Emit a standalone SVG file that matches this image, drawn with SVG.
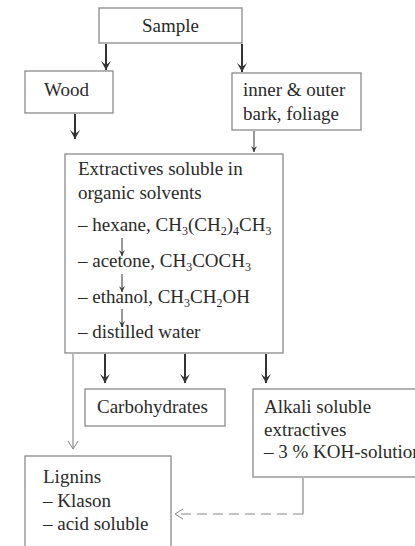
<svg xmlns="http://www.w3.org/2000/svg" width="415" height="546" viewBox="0 0 415 546">
<style>
text{font-family:"Liberation Serif","Times New Roman",serif;font-size:19px;fill:#2a2a2a}
.sub{font-size:12px}
.box{fill:#fff;stroke:#8a8a8a;stroke-width:1.3}
.thick{stroke:#333;stroke-width:2;fill:none}
.thin{stroke:#777;stroke-width:1;fill:none}
.tiny{stroke:#333;stroke-width:1;fill:none}
.dash{stroke:#888;stroke-width:1.2;fill:none;stroke-dasharray:10 6}
</style>
<defs>
<marker id="ah" markerWidth="12" markerHeight="12" refX="10" refY="6" orient="auto" markerUnits="userSpaceOnUse" viewBox="0 0 12 12">
<path d="M1,1 L10,6 L1,11 L5,6 Z" fill="#333"/>
</marker>
<marker id="sh" markerWidth="8" markerHeight="8" refX="7" refY="4" orient="auto" markerUnits="userSpaceOnUse" viewBox="0 0 8 8">
<path d="M1,1 L7,4 L1,7 L3.5,4 Z" fill="#333"/>
</marker>
<marker id="open" markerWidth="16" markerHeight="16" refX="14" refY="8" orient="auto" markerUnits="userSpaceOnUse" viewBox="0 0 16 16">
<path d="M6,3 L14,8 L6,13" fill="none" stroke="#888" stroke-width="1"/>
</marker>
</defs>
<rect width="415" height="546" fill="#fff"/>
<g id="sample"><rect class="box" x="99" y="8" width="143" height="35"/><text x="170.5" y="32" text-anchor="middle">Sample</text></g>
<g id="wood"><rect class="box" x="25" y="71" width="88" height="42"/><text x="44" y="96">Wood</text></g>
<g id="bark"><rect class="box" x="232" y="73" width="129" height="57"/><text x="243" y="96">inner &amp; outer</text><text x="243" y="120">bark, foliage</text></g>
<g id="extractives"><rect class="box" x="65" y="154" width="218" height="199"/>
<text x="78" y="175">Extractives soluble in</text>
<text x="78" y="199">organic solvents</text>
<text x="78" y="231">– hexane, CH<tspan class="sub" dy="4">3</tspan><tspan dy="-4">(CH</tspan><tspan class="sub" dy="4">2</tspan><tspan dy="-4">)</tspan><tspan class="sub" dy="4">4</tspan><tspan dy="-4">CH</tspan><tspan class="sub" dy="4">3</tspan></text>
<text x="78" y="267">– acetone, CH<tspan class="sub" dy="4">3</tspan><tspan dy="-4">COCH</tspan><tspan class="sub" dy="4">3</tspan></text>
<text x="78" y="303">– ethanol, CH<tspan class="sub" dy="4">3</tspan><tspan dy="-4">CH</tspan><tspan class="sub" dy="4">2</tspan><tspan dy="-4">OH</tspan></text>
<text x="78" y="338">– distilled water</text>
<line class="tiny" x1="122" y1="238" x2="122" y2="256" marker-end="url(#sh)"/>
<line class="tiny" x1="122" y1="274" x2="122" y2="292" marker-end="url(#sh)"/>
<line class="tiny" x1="122" y1="309" x2="122" y2="327" marker-end="url(#sh)"/>
</g>
<g id="carbohydrates"><rect class="box" x="85" y="389" width="140" height="37"/><text x="97" y="413">Carbohydrates</text></g>
<g id="alkali"><rect class="box" x="253" y="389" width="175" height="88"/>
<text x="264" y="413">Alkali soluble</text><text x="264" y="436">extractives</text><text x="264" y="458">– 3 % KOH-solution</text></g>
<g id="lignins"><rect class="box" x="25" y="456" width="146" height="100"/>
<text x="43" y="483">Lignins</text><text x="43" y="507">– Klason</text><text x="43" y="530">– acid soluble</text></g>
<g id="connectors">
<line class="thick" x1="106" y1="44" x2="106" y2="70" marker-end="url(#ah)"/>
<line class="thick" x1="242" y1="44" x2="242" y2="72" marker-end="url(#ah)"/>
<line class="thick" x1="75" y1="114" x2="75" y2="139" marker-end="url(#ah)"/>
<line class="tiny" x1="254" y1="131" x2="254" y2="152" marker-end="url(#sh)"/>
<line class="thick" x1="105" y1="354" x2="105" y2="383" marker-end="url(#ah)"/>
<line class="thick" x1="185" y1="354" x2="185" y2="383" marker-end="url(#ah)"/>
<line class="thick" x1="266" y1="354" x2="266" y2="383" marker-end="url(#ah)"/>
<line class="thin" x1="73" y1="354" x2="73" y2="449" marker-end="url(#open)"/>
<path d="M303,478 V514" stroke="#888" stroke-width="1.2" fill="none"/>
<path class="dash" d="M303,514 H175" marker-end="url(#open)"/>
</g>
</svg>
